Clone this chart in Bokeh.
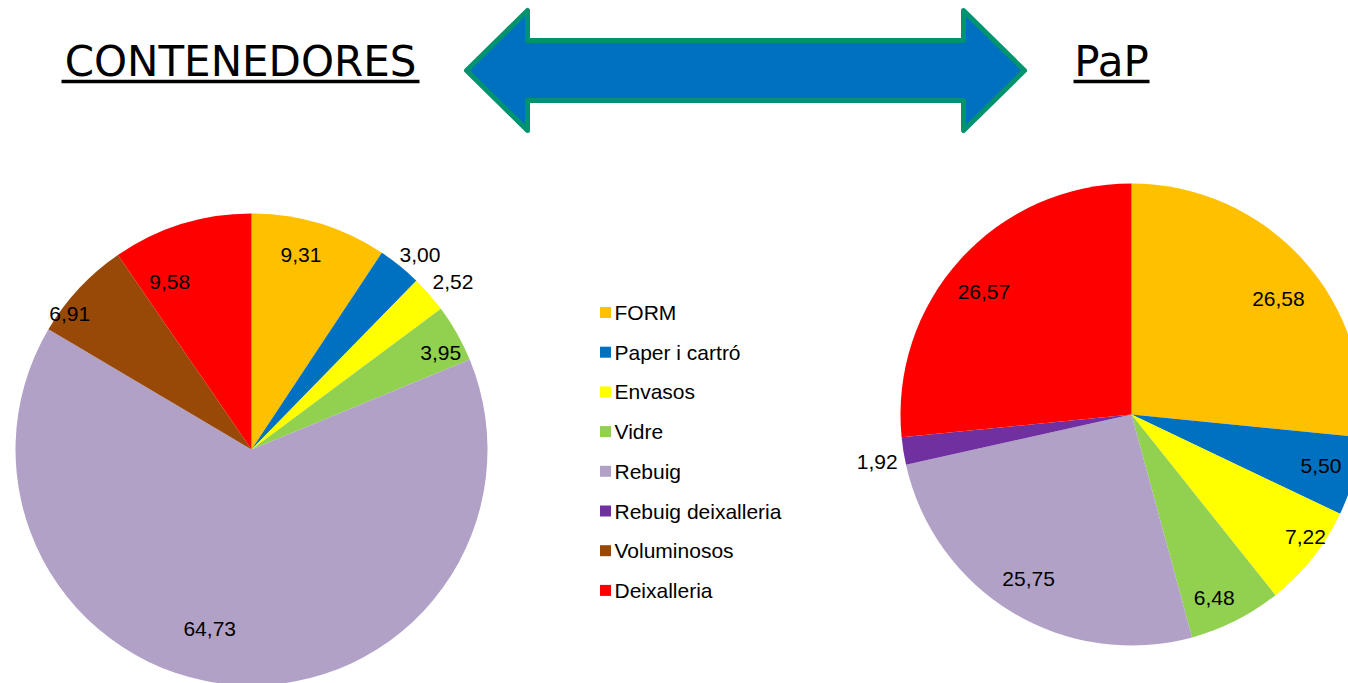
import math
from bokeh.plotting import figure
from bokeh.models import Range1d, ColumnDataSource
from bokeh.core.properties import value
from bokeh.embed import file_html
from bokeh.resources import INLINE

# ---------------- data ----------------
categories = ["FORM", "Paper i cartró", "Envasos", "Vidre", "Rebuig",
              "Rebuig deixalleria", "Voluminosos", "Deixalleria"]
contenedores = [9.31, 3.00, 2.52, 3.95, 64.73, 0.0, 6.91, 9.58]
pap = [26.58, 5.50, 7.22, 6.48, 25.75, 1.92, 0.0, 26.57]
title_left = "CONTENEDORES"
title_right = "PaP"

# ---------------- styles ----------------
colors = ["#FFC000", "#0070C0", "#FFFF00", "#92D050", "#B2A1C7",
          "#7030A0", "#984807", "#FF0000"]

W, H = 1348, 683
def Y(sy):  # screen pixel y -> data y
    return 683 - sy

p = figure(width=W, height=H, output_backend="svg", toolbar_location=None,
           x_range=Range1d(0, W), y_range=Range1d(683 - H, 683),
           min_border=0, background_fill_color="white", border_fill_color="white")
p.axis.visible = False
p.grid.visible = False
p.outline_line_color = None

label_font = value("Liberation Sans")

def draw_pie(vals, cx, cy, r, lab_r, lab_da):
    total = sum(vals)
    cum = 0.0
    xs, ys, starts, ends, cols = [], [], [], [], []
    lx, ly, lt = [], [], []
    for i, v in enumerate(vals):
        a0 = cum / total
        cum += v
        a1 = cum / total
        if v <= 0:
            continue
        starts.append(math.pi / 2 - 2 * math.pi * a1)
        ends.append(math.pi / 2 - 2 * math.pi * a0)
        cols.append(colors[i])
        xs.append(cx)
        ys.append(Y(cy))
        mid = (a0 + a1) / 2 * 360 + lab_da[i]
        rr = r * lab_r[i]
        lx.append(cx + rr * math.sin(math.radians(mid)))
        ly.append(Y(cy) + rr * math.cos(math.radians(mid)))
        lt.append(f"{v:.2f}".replace(".", ","))
    src = ColumnDataSource(dict(x=xs, y=ys, s=starts, e=ends, c=cols))
    p.wedge(x="x", y="y", radius=r, start_angle="s", end_angle="e",
            fill_color="c", line_color=None, source=src)
    p.text(x=lx, y=ly, text=lt, text_font=label_font, text_font_size="21px",
           text_align="center", text_baseline="middle", text_color="black")

# left pie
draw_pie(contenedores, 251, 449, 236,
         [0.85, 1.09, 1.11, 0.90, 0.78, 1.0, 0.96, 0.79],
         [-2.5, 2.0, 1.4, 2.5, 9.0, 0.0, -6.4, -8.8])
# right pie
draw_pie(pap, 1131, 414, 231,
         [0.81, 0.85, 0.92, 0.87, 0.84, 1.12, 1.0, 0.83],
         [3.9, -0.4, -3.4, 2.6, 0.9, -1.6, 0.0, -2.5])

# legend
leg_y0, leg_step = 312, 39.7
lgx = [605] * len(categories)
lgy = [Y(leg_y0 + i * leg_step) for i in range(len(categories))]
p.scatter(x=lgx, y=lgy, marker="square", size=11, fill_color=colors, line_color=None)
p.text(x=[614] * len(categories), y=lgy, text=categories, text_font=label_font,
       text_font_size="21px", text_align="left", text_baseline="middle",
       text_color="black")

# titles
title_font = value("DejaVu Sans")
p.text(x=[240, 1111], y=[Y(61), Y(61)], text=[title_left, title_right],
       text_font=title_font, text_font_size="42px", text_align="center",
       text_baseline="middle", text_color="black")
p.segment(x0=[61, 1073], y0=[Y(81), Y(81)], x1=[419, 1149], y1=[Y(81), Y(81)],
          line_color="black", line_width=3.5)

# double arrow
ax = [466, 527, 527, 963, 963, 1024, 963, 963, 527, 527]
ay = [70, 10, 40, 40, 10, 70, 130, 100, 100, 130]
p.patch(x=ax, y=[Y(v) for v in ay], fill_color="#0070C0", line_color="#00936F",
        line_width=5, line_join="round")

open("out.html", "w").write(file_html(p, INLINE))
